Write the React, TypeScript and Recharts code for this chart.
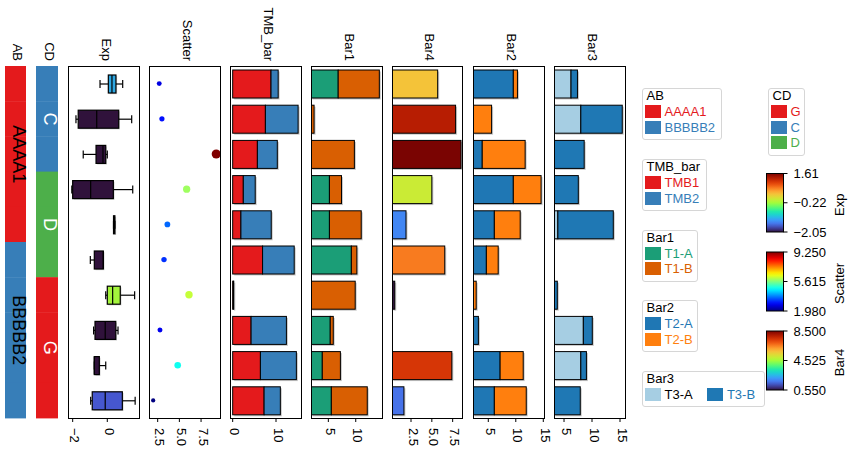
import React from "react";
import { BarChart, Bar, XAxis, YAxis, ScatterChart, Scatter } from "recharts";

const FONT = '"Liberation Sans", Arial, sans-serif';

// ---- data ----
const samples = ["s1", "s2", "s3", "s4", "s5", "s6", "s7", "s8", "s9", "s10"];
const abGroups = ["AAAA1", "AAAA1", "AAAA1", "AAAA1", "AAAA1", "BBBBB2", "BBBBB2", "BBBBB2", "BBBBB2", "BBBBB2"];
const cdGroups = ["C", "C", "C", "D", "D", "D", "G", "G", "G", "G"];

const expMin = [-0.42, -1.81, -1.39, -2.05, 0.36, -0.98, -0.09, -0.79, -0.75, -0.96];
const expQ1 = [0.06, -1.68, -0.65, -2.0, 0.36, -0.75, 0.0, -0.71, -0.75, -0.87];
const expMed = [0.27, -0.61, -0.25, -0.96, 0.4, -0.23, 0.31, -0.12, -0.75, -0.12];
const expQ3 = [0.5, 0.66, -0.09, 0.35, 0.44, -0.23, 0.75, 0.49, -0.46, 0.87];
const expMax = [0.89, 1.41, 0.0, 1.47, 0.44, -0.23, 1.58, 0.62, -0.09, 1.61];
const expBoxColors = ["#2ea7e2", "#30123b", "#30123b", "#30123b", "#111111", "#30123b", "#a4f43c", "#30123b", "#30123b", "#4657cf"];

const scatterVals = [2.68, 2.99, 9.25, 5.84, 3.62, 3.23, 6.11, 2.77, 4.81, 1.98];

const tmb1 = [8.85, 7.55, 5.7, 2.45, 1.9, 6.9, 0.15, 4.25, 6.4, 7.25];
const tmb2 = [1.65, 7.55, 4.6, 2.75, 7.0, 7.3, 0.1, 8.15, 8.3, 3.75];

const t1a = [6.8, 0, 0, 5.2, 5.2, 9.2, 0, 5.35, 3.9, 5.55];
const t1b = [7.5, 2.4, 9.75, 2.2, 5.8, 1.0, 9.9, 0.55, 3.3, 6.55];

const bar4 = [5.7, 7.85, 8.5, 5.0, 1.9, 6.55, 0.55, null, 7.4, 1.65];

const t2a = [9.55, 0, 3.9, 9.55, 6.1, 4.65, 0, 3.2, 7.15, 6.1];
const t2b = [0.75, 5.6, 7.8, 5.05, 4.7, 2.15, 2.8, 0, 4.2, 5.8];

const t3a = [6.25, 8.0, 0, 0, 3.9, 0, 0, 8.45, 8.0, 0];
const t3b = [1.15, 7.4, 8.6, 7.55, 9.9, 0, 3.8, 1.6, 1.0, 7.9];

// ---- colours ----
const abColors: Record<string, string> = { AAAA1: "#e41a1c", BBBBB2: "#377eb8" };
const cdColors: Record<string, string> = { G: "#e41a1c", C: "#377eb8", D: "#4daf4a" };

const TURBO = ["#30123b", "#4145ab", "#4675ed", "#39a2fc", "#1bcfd4", "#24eca6", "#61fc6c", "#a4fc3b",
  "#d1e834", "#f3c63a", "#fe9b2d", "#f36315", "#d93806", "#b11901", "#7a0402"];

function hexRgb(h: string) {
  return [parseInt(h.slice(1, 3), 16), parseInt(h.slice(3, 5), 16), parseInt(h.slice(5, 7), 16)];
}
function turbo(t: number) {
  t = Math.max(0, Math.min(1, t));
  const p = t * (TURBO.length - 1);
  const i = Math.min(Math.floor(p), TURBO.length - 2);
  const f = p - i;
  const a = hexRgb(TURBO[i]);
  const b = hexRgb(TURBO[i + 1]);
  const c = a.map((v, k) => Math.round(v + (b[k] - v) * f));
  return `rgb(${c[0]},${c[1]},${c[2]})`;
}
function jet(t: number) {
  t = Math.max(0, Math.min(1, t));
  const c = (v: number) => Math.round(255 * Math.max(0, Math.min(1, v)));
  return `rgb(${c(1.5 - Math.abs(4 * t - 3))},${c(1.5 - Math.abs(4 * t - 2))},${c(1.5 - Math.abs(4 * t - 1))})`;
}

// ---- tables ----
function groupRows(groups: string[]) {
  return groups.map((g, i) => {
    const last = i === groups.length - 1 || groups[i + 1] !== g;
    let span = 0;
    if (last) {
      let j = i;
      while (j >= 0 && groups[j] === g) j--;
      span = i - j;
    }
    return { name: samples[i], group: g, one: 1, label: last ? g : "", span };
  });
}
const abData = groupRows(abGroups);
const cdData = groupRows(cdGroups);

const expData = samples.map((name, i) => ({
  name, min: expMin[i], q1: expQ1[i], med: expMed[i], q3: expQ3[i], max: expMax[i], color: expBoxColors[i],
}));
const scMin = Math.min(...scatterVals);
const scMax = Math.max(...scatterVals);
const scatterData = samples.map((name, i) => ({
  name, row: i, v: scatterVals[i], color: jet((scatterVals[i] - scMin) / (scMax - scMin)),
}));
const tmbData = samples.map((name, i) => ({ name, a: tmb1[i], b: tmb2[i] }));
const bar1Data = samples.map((name, i) => ({ name, a: t1a[i], b: t1b[i] }));
const b4Min = 0.55;
const b4Max = 8.5;
const bar4Data = samples.map((name, i) => ({
  name, v: bar4[i], color: bar4[i] == null ? "none" : turbo(((bar4[i] as number) - b4Min) / (b4Max - b4Min)),
}));
const bar2Data = samples.map((name, i) => ({ name, a: t2a[i], b: t2b[i] }));
const bar3Data = samples.map((name, i) => ({ name, a: t3a[i], b: t3b[i] }));

// ---- layout ----
const TOP = 66;
const BOTTOM = 418;
const H = 453;
const PAD = 10;

const fmtInt = (v: number) => (v < 0 ? "\u2212" + Math.abs(v) : String(v));
const fmt1 = (v: number) => v.toFixed(1);

const RotTick = (props: any) => {
  const { x, y, payload, fmt } = props;
  const ty = y + 4;
  const tx = x + 2;
  return (
    <text x={tx} y={ty} transform={`rotate(90, ${tx}, ${ty})`} textAnchor="start" dominantBaseline="central"
      fontSize={13} fontFamily={FONT} fill="#000">
      {fmt(payload.value)}
    </text>
  );
};

function xAxis(domain: number[], ticks: number[], fmt: (v: number) => string, dataKey?: string) {
  return (
    <XAxis type="number" dataKey={dataKey} domain={domain} ticks={ticks} allowDataOverflow interval={0}
      axisLine={false} tickLine={{ stroke: "#000" }} tickSize={4} height={H - BOTTOM}
      tick={(p: any) => <RotTick {...p} fmt={fmt} />} />
  );
}

const ShadowBar = (props: any) => {
  const { x, y, width, height } = props;
  const fill = props.payload?.color ?? props.fill;
  if (!width || width <= 0 || !height) return null;
  return (
    <g>
      <rect x={x + 1.5} y={y + 1.5} width={width} height={height} fill="#000" fillOpacity={0.22} />
      <rect x={x} y={y} width={width} height={height} fill={fill} stroke="#000" strokeWidth={1} />
    </g>
  );
};

const BoxShape = (props: any) => {
  const { x, y, width, height, payload } = props;
  const span = payload.max - payload.min;
  const px = (v: number) => x + ((v - payload.min) / span) * width;
  const cy = y + height / 2;
  const cap = 4;
  const l = px(payload.q1);
  const r = px(payload.q3);
  return (
    <g stroke="#000" strokeWidth={1.2}>
      <line x1={px(payload.min)} x2={l} y1={cy} y2={cy} />
      <line x1={r} x2={px(payload.max)} y1={cy} y2={cy} />
      <line x1={px(payload.min)} x2={px(payload.min)} y1={cy - cap} y2={cy + cap} />
      <line x1={px(payload.max)} x2={px(payload.max)} y1={cy - cap} y2={cy + cap} />
      <rect x={l + 1.2} y={y + 1.2} width={Math.max(r - l, 0.5)} height={height} fill="#000" fillOpacity={0.18} stroke="none" />
      <rect x={l} y={y} width={Math.max(r - l, 0.5)} height={height} fill={payload.color} />
      <line x1={px(payload.med)} x2={px(payload.med)} y1={y} y2={y + height} />
    </g>
  );
};

const DotShape = (props: any) => {
  const { cx, cy, payload } = props;
  if (cx == null || cy == null) return null;
  return <circle cx={cx} cy={cy} r={1.5 * Math.sqrt(payload.v)} fill={payload.color} />;
};

const makeAnnoShape = (colors: Record<string, string>, textColor: string) => (props: any) => {
  const { x, y, width, height, payload } = props;
  const ly = y + height - (height * payload.span) / 2;
  const lx = x + width / 2 + 3;
  return (
    <g>
      <rect x={x} y={y} width={width} height={height + 0.6} fill={colors[payload.group]} />
      {payload.label ? (
        <text x={lx} y={ly} transform={`rotate(90, ${lx}, ${ly})`} textAnchor="middle" dominantBaseline="central"
          fontSize={18} fontFamily={FONT} fill={textColor}>
          {payload.label}
        </text>
      ) : null}
    </g>
  );
};
const AbShape = makeAnnoShape(abColors, "#000");
const CdShape = makeAnnoShape(cdColors, "#fff");

function Frame({ left, right }: { left: number; right: number }) {
  return (
    <div style={{ position: "absolute", left, top: TOP, width: right - left, height: BOTTOM - TOP + 1,
      border: "1px solid #000", boxSizing: "border-box", pointerEvents: "none" }} />
  );
}

function Slot({ left, children }: { left: number; right?: number; children: any }) {
  return <div style={{ position: "absolute", left: left - PAD, top: 0 }}>{children}</div>;
}
const margin = { top: TOP, right: PAD, bottom: 0, left: PAD };
const cw = (l: number, r: number) => r - l + 2 * PAD;

function StackPanel({ left, right, data, domain, ticks, fmt, colors }: any) {
  return (
    <Slot left={left} right={right}>
      <BarChart width={cw(left, right)} height={H} data={data} layout="vertical" margin={margin}>
        {xAxis(domain, ticks, fmt)}
        <YAxis type="category" dataKey="name" hide />
        <Bar dataKey="a" stackId="s" fill={colors[0]} barSize={28} shape={ShadowBar} isAnimationActive={false} />
        <Bar dataKey="b" stackId="s" fill={colors[1]} barSize={28} shape={ShadowBar} isAnimationActive={false} />
      </BarChart>
    </Slot>
  );
}

function AnnoColumn({ left, right, data, shape }: any) {
  return (
    <Slot left={left} right={right}>
      <BarChart width={cw(left, right)} height={H} data={data} layout="vertical" barCategoryGap={0}
        margin={{ top: TOP, right: PAD, bottom: H - BOTTOM, left: PAD }}>
        <XAxis type="number" domain={[0, 1]} hide />
        <YAxis type="category" dataKey="name" hide />
        <Bar dataKey="one" shape={shape} isAnimationActive={false} />
      </BarChart>
    </Slot>
  );
}

const titles = [
  { t: "AB", x: 15.5 }, { t: "CD", x: 47 }, { t: "Exp", x: 104 }, { t: "Scatter", x: 185 },
  { t: "TMB_bar", x: 266 }, { t: "Bar1", x: 347 }, { t: "Bar4", x: 427.5 }, { t: "Bar2", x: 509 }, { t: "Bar3", x: 590 },
];

function ColorBar({ id, x, top, bottom, cmap, labels, title }: any) {
  const stops = Array.from({ length: 21 }, (_, i) => i / 20);
  const w = 17;
  return (
    <g>
      <defs>
        <linearGradient id={id} x1="0" y1="0" x2="0" y2="1">
          {stops.map((s) => <stop key={s} offset={s} stopColor={cmap(1 - s)} />)}
        </linearGradient>
      </defs>
      <rect x={x} y={top} width={w} height={bottom - top} fill={`url(#${id})`} stroke="#000" strokeWidth={1} />
      {labels.map((lb: string, i: number) => {
        const yy = top + ((bottom - top) * i) / (labels.length - 1);
        return (
          <g key={lb}>
            <line x1={x + w} x2={x + w + 4} y1={yy} y2={yy} stroke="#000" />
            <text x={x + w + 10} y={yy} dominantBaseline="central" fontSize={13} fontFamily={FONT}>{lb}</text>
          </g>
        );
      })}
      <text x={839} y={(top + bottom) / 2 + 2} transform={`rotate(-90, 839, ${(top + bottom) / 2 + 2})`}
        textAnchor="middle" dominantBaseline="central" fontSize={13} fontFamily={FONT}>{title}</text>
    </g>
  );
}

function LegendBox({ left, top, width, title, items, horizontal }: any) {
  return (
    <div style={{ position: "absolute", left, top, width, boxSizing: "border-box", border: "1px solid #d6d6d6",
      borderRadius: 3, padding: "0 2px 4px 2px", fontFamily: FONT, fontSize: 13, background: "#fff" }}>
      <div style={{ lineHeight: "14px", height: 14, color: "#000", paddingLeft: 2 }}>{title}</div>
      <div style={{ display: "flex", flexDirection: horizontal ? "row" : "column", marginTop: 1 }}>
        {items.map((it: any) => (
          <div key={it.label} style={{ display: "flex", alignItems: "center", height: 15.5, minWidth: horizontal ? 62.4 : 0 }}>
            <span style={{ display: "inline-block", width: 16, height: 13, background: it.color, marginRight: 4 }} />
            <span style={{ color: it.text ?? it.color, lineHeight: "15px" }}>{it.label}</span>
          </div>
        ))}
      </div>
    </div>
  );
}

export default function App() {
  return (
    <div style={{ position: "absolute", left: 0, top: 0, width: 850, height: H, background: "#fff", fontFamily: FONT }}>
      <AnnoColumn left={5} right={26} data={abData} shape={AbShape} />
      <AnnoColumn left={36} right={58} data={cdData} shape={CdShape} />

      <Slot left={68} right={140}>
        <BarChart width={cw(68, 140)} height={H} data={expData} layout="vertical" margin={margin}>
          {xAxis([-2.27, 1.89], [-2, 0], fmtInt)}
          <YAxis type="category" dataKey="name" hide />
          <Bar dataKey={(d: any) => [d.min, d.max]} barSize={18} shape={BoxShape} isAnimationActive={false} />
        </BarChart>
      </Slot>
      <Frame left={68} right={140} />

      <Slot left={149} right={221}>
        <ScatterChart width={cw(149, 221)} height={H} margin={margin}>
          {xAxis([1.5, 9.8], [2.5, 5.0, 7.5], fmt1, "v")}
          <YAxis type="number" dataKey="row" domain={[-0.5, 9.5]} reversed hide />
          <Scatter data={scatterData} shape={DotShape} isAnimationActive={false} />
        </ScatterChart>
      </Slot>
      <Frame left={149} right={221} />

      <StackPanel left={230} right={302} data={tmbData} domain={[-0.62, 16.0]} ticks={[0, 10]} fmt={fmtInt}
        colors={["#e41a1c", "#377eb8"]} />
      <Frame left={230} right={302} />

      <StackPanel left={311} right={383} data={bar1Data} domain={[1.84, 14.97]} ticks={[5, 10]} fmt={fmtInt}
        colors={["#1b9e77", "#d95f02"]} />
      <Frame left={311} right={383} />

      <Slot left={392} right={463}>
        <BarChart width={cw(392, 463)} height={H} data={bar4Data} layout="vertical" margin={margin}>
          {xAxis([0.22, 8.74], [2.5, 5.0, 7.5], fmt1)}
          <YAxis type="category" dataKey="name" hide />
          <Bar dataKey="v" barSize={28} shape={ShadowBar} isAnimationActive={false} />
        </BarChart>
      </Slot>
      <Frame left={392} right={463} />

      <StackPanel left={473} right={545} data={bar2Data} domain={[2.22, 15.31]} ticks={[5, 10, 15]} fmt={fmtInt}
        colors={["#1f77b4", "#ff7f0e"]} />
      <Frame left={473} right={545} />

      <StackPanel left={554} right={626} data={bar3Data} domain={[3.21, 16.07]} ticks={[5, 10, 15]} fmt={fmtInt}
        colors={["#a6cee3", "#1f78b4"]} />
      <Frame left={554} right={626} />

      <svg width={850} height={H} style={{ position: "absolute", left: 0, top: 0, pointerEvents: "none" }}>
        {titles.map((tt) => (
          <text key={tt.t} x={tt.x + 2} y={61} transform={`rotate(90, ${tt.x + 2}, 61)`} textAnchor="end"
            dominantBaseline="central" fontSize={13} fontFamily={FONT}>{tt.t}</text>
        ))}
        <ColorBar id="cbExp" x={766.5} top={173.5} bottom={232} cmap={turbo} labels={["1.61", "\u22120.22", "\u22122.05"]} title="Exp" />
        <ColorBar id="cbSc" x={766.5} top={252} bottom={311} cmap={jet} labels={["9.250", "5.615", "1.980"]} title="Scatter" />
        <ColorBar id="cbB4" x={766.5} top={331} bottom={390} cmap={turbo} labels={["8.500", "4.525", "0.550"]} title="Bar4" />
      </svg>

      <LegendBox left={641.5} top={88} width={80} title="AB"
        items={[{ label: "AAAA1", color: "#e41a1c" }, { label: "BBBBB2", color: "#377eb8" }]} />
      <LegendBox left={767.5} top={88} width={37} title="CD"
        items={[{ label: "G", color: "#e41a1c" }, { label: "C", color: "#377eb8" }, { label: "D", color: "#4daf4a" }]} />
      <LegendBox left={641.5} top={159} width={65} title="TMB_bar"
        items={[{ label: "TMB1", color: "#e41a1c" }, { label: "TMB2", color: "#377eb8" }]} />
      <LegendBox left={641.5} top={229.5} width={56} title="Bar1"
        items={[{ label: "T1-A", color: "#1b9e77" }, { label: "T1-B", color: "#d95f02" }]} />
      <LegendBox left={641.5} top={300} width={56} title="Bar2"
        items={[{ label: "T2-A", color: "#1f77b4" }, { label: "T2-B", color: "#ff7f0e" }]} />
      <LegendBox left={641.5} top={370.5} width={123} title="Bar3" horizontal
        items={[{ label: "T3-A", color: "#a6cee3", text: "#000" }, { label: "T3-B", color: "#1f78b4" }]} />
    </div>
  );
}
